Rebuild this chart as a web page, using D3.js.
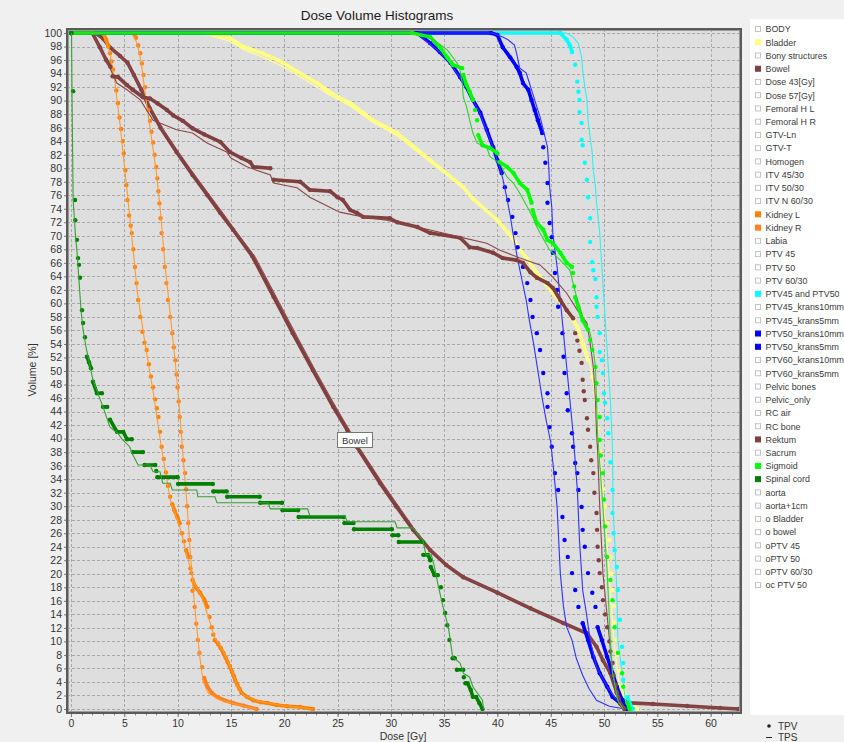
<!DOCTYPE html>
<html><head><meta charset="utf-8">
<script src="https://cdn.jsdelivr.net/npm/d3@7"></script>
<style>
html,body{margin:0;padding:0;background:#f0f0f0;}
svg{display:block;font-family:"Liberation Sans",Arial,sans-serif;}
</style></head><body>
<svg id="c" width="844" height="742"></svg>
<script>
// ---------------- DATA ----------------
const xTickValues = [0,5,10,15,20,25,30,35,40,45,50,55,60];
const yTickValues = [0,2,4,6,8,10,12,14,16,18,20,22,24,26,28,30,32,34,36,38,40,42,44,46,48,50,52,54,56,58,60,62,64,66,68,70,72,74,76,78,80,82,84,86,88,90,92,94,96,98,100];

const legendNames = ["BODY","Bladder","Bony structures","Bowel","Dose 43[Gy]","Dose 57[Gy]","Femoral H L","Femoral H R","GTV-Ln","GTV-T","Homogen","ITV 45/30","ITV 50/30","ITV N 60/30","Kidney L","Kidney R","Labia","PTV 45","PTV 50","PTV 60/30","PTV45 and PTV50","PTV45_krans10mm","PTV45_krans5mm","PTV50_krans10mm","PTV50_krans5mm","PTV60_krans10mm","PTV60_krans5mm","Pelvic bones","Pelvic_only","RC air","RC bone","Rektum","Sacrum","Sigmoid","Spinal cord","aorta","aorta+1cm","o Bladder","o bowel","oPTV 45","oPTV 50","oPTV 60/30","oc PTV 50"];

// dose [Gy], volume [%]
const bladderTPV = [[0,100],[12.5,100],[13.7,99.6],[14.9,99.3],[16.1,98.0],[18.0,97.0],[19.9,95.6],[21.2,94.3],[23.1,92.6],[24.3,91.2],[26.2,89.6],[27.4,88.2],[28.3,87.1],[30.6,85.2],[33.7,81.2],[36.8,77.2],[37.7,75.5],[40.0,72.3],[41.5,69.6],[42.1,67.9],[42.8,66.6],[43.7,64.5],[45.2,61.5],[46.5,59.0],[47.5,56.5],[48.0,54.1],[48.5,51.6],[48.9,49.1],[49.2,46.7],[49.3,44.0],[49.4,41.5],[49.6,38.0],[49.8,35.0],[49.9,32.5],[50.1,30.0],[50.3,27.5],[50.5,25.0],[50.6,22.5],[50.7,20.0],[50.8,17.6],[50.9,15.2],[51.0,12.8],[51.2,10.3],[51.3,8.0],[51.5,5.7],[51.7,3.5],[52.0,2.0],[52.3,1.0],[52.8,0.3],[53.1,0]];
const bladderTPS = [[0,100],[12.5,100],[13.5,99.4],[14.9,98.8],[16.1,97.6],[18.0,96.4],[19.9,95.0],[21.2,93.8],[23.1,92.0],[24.3,90.8],[26.2,89.2],[28.3,86.8],[30.6,84.8],[33.7,80.9],[36.8,77.0],[40.0,72.2],[42.1,67.9],[43.7,64.6],[45.2,61.7],[46.5,59.2],[47.5,56.8],[48.2,54.0],[48.7,51.0],[49.1,47.0],[49.4,42.0],[49.7,36.0],[50.0,30.0],[50.4,22.0],[50.7,15.0],[51.0,9.0],[51.4,4.0],[51.9,1.0],[52.5,0]];

const bowelTPV = [[0,100],[2.3,100],[3.0,99.2],[3.7,97.8],[4.6,96.6],[5.3,95.6],[5.9,93.8],[6.6,91.6],[7.4,88.8],[8.4,86.0],[9.9,82.4],[11.4,79.0],[12.8,76.0],[14.0,73.4],[15.2,70.9],[17.0,67.0],[19.0,61.0],[20.8,55.6],[22.7,50.1],[24.6,44.7],[25.9,41.3],[26.8,38.8],[29.0,33.4],[30.5,30.0],[32.1,26.5],[33.7,23.5],[35.2,21.3],[36.8,19.5],[40.0,17.2],[43.1,14.9],[46.2,12.7],[48.4,11.2],[49.3,9.2],[49.9,7.2],[50.6,5.3],[51.2,2.4],[51.8,1.3],[52.4,0.9],[54.6,0.74],[57.8,0.44],[60.9,0.15],[62.6,0]];
const bowelTPS = [[0,100],[2.2,100],[3.0,99.0],[3.8,97.6],[4.8,96.3],[5.5,95.0],[6.1,93.2],[6.8,91.2],[7.6,88.6],[8.6,85.8],[10.1,82.3],[11.6,79.0],[13.0,76.0],[14.3,73.2],[15.5,70.6],[17.3,66.8],[19.3,60.8],[21.1,55.4],[23.0,49.8],[24.9,44.5],[26.2,41.0],[27.1,38.5],[29.3,33.2],[30.8,29.8],[32.3,26.4],[33.9,23.4],[35.4,21.2],[37.0,19.4],[40.2,17.1],[43.3,14.8],[46.3,12.6],[48.3,11.3],[49.2,9.5],[49.9,7.4],[50.6,5.4],[51.2,2.6],[51.8,1.3],[52.5,0.8],[55.0,0.6],[58.0,0.4],[61.0,0.15],[62.5,0]];

const kidneyLTPV = [[0,100],[3.0,100],[3.3,99.0],[3.5,98.0],[3.66,97.0],[3.8,95.8],[3.95,94.6],[4.1,93.5],[4.25,91.5],[4.4,89.6],[4.55,87.5],[4.7,85.8],[4.85,84.0],[4.95,82.2],[5.1,79.7],[5.2,77.5],[5.3,75.3],[5.45,73.0],[5.6,71.5],[5.7,70.4],[5.85,68.0],[6.0,65.4],[6.15,63.0],[6.3,60.5],[6.5,58.0],[6.7,55.8],[6.9,54.2],[7.1,53.1],[7.3,51.0],[7.5,49.2],[7.7,47.6],[7.9,45.8],[8.05,44.5],[8.2,43.2],[8.35,41.0],[8.5,38.8],[8.7,37.0],[8.9,35.0],[9.1,33.0],[9.3,31.4],[9.5,30.3],[9.7,29.4],[10.0,28.3],[10.2,27.5],[10.4,26.0],[10.6,24.8],[10.8,23.5],[11.0,22.5],[11.2,20.8],[11.4,19.1],[11.7,18.0],[12.1,17.2],[12.5,16.2],[12.8,15.1],[13.0,13.6],[13.2,12.1],[13.35,11.0],[13.5,10.2],[13.8,9.6],[14.05,9.0],[14.3,8.3],[14.5,7.6],[14.7,6.9],[14.9,6.2],[15.1,5.5],[15.3,4.8],[15.4,4.3],[15.6,3.6],[15.8,3.0],[16.0,2.4],[16.5,1.8],[17.1,1.3],[17.8,1.0],[18.4,0.9],[19.3,0.6],[20.3,0.4],[21.5,0.3],[22.7,0]];
const kidneyLTPS = [[0,100],[3.0,100],[3.6,97.5],[4.1,93.0],[4.6,86.5],[5.1,79.0],[5.6,71.5],[6.2,62.0],[6.9,54.5],[7.7,47.0],[8.5,38.5],[9.3,31.0],[10.2,27.0],[11.0,22.0],[11.6,18.5],[12.3,16.5],[13.0,13.0],[13.5,10.5],[14.3,8.5],[15.0,6.0],[15.6,3.5],[16.2,2.0],[17.5,1.2],[19.5,0.6],[22.7,0]];

const kidneyRTPV = [[0,100],[5.8,100],[6.1,99.3],[6.3,98.2],[6.5,97.0],[6.65,95.5],[6.8,93.8],[6.95,92.0],[7.1,90.3],[7.25,88.6],[7.4,87.0],[7.55,85.4],[7.7,83.8],[7.85,82.0],[8.0,80.2],[8.1,78.5],[8.2,76.6],[8.3,74.8],[8.4,72.6],[8.5,70.4],[8.65,68.0],[8.8,65.4],[8.95,63.0],[9.1,60.5],[9.3,58.0],[9.5,55.6],[9.65,53.5],[9.8,51.6],[9.9,49.5],[10.0,47.6],[10.1,45.5],[10.2,43.2],[10.3,41.0],[10.4,38.8],[10.55,36.8],[10.7,34.9],[10.8,32.5],[10.9,30.0],[11.0,27.5],[11.1,25.0],[11.2,22.5],[11.3,20.1],[11.4,17.5],[11.6,15.1],[11.75,12.6],[11.9,10.2],[12.05,8.3],[12.3,6.2],[12.5,4.6],[12.8,3.3],[13.2,2.4],[13.7,1.8],[14.4,1.3],[15.2,0.9],[16.2,0.5],[17.4,0]];
const kidneyRTPS = [[0,100],[5.7,100],[6.2,98.5],[6.6,95.5],[7.0,90.5],[7.5,85.0],[8.0,79.5],[8.4,73.5],[8.8,66.0],[9.3,58.5],[9.8,51.0],[10.2,44.0],[10.5,37.5],[10.9,30.0],[11.2,23.0],[11.5,17.0],[11.8,12.0],[12.1,7.5],[12.4,4.0],[12.9,2.3],[14.0,1.3],[15.5,0.7],[17.4,0]];

const ptv4550TPV = [[0,100],[45.9,100],[46.5,99.0],[46.8,98.2],[47.0,97.2],[47.3,95.3],[47.5,92.8],[47.6,91.3],[47.7,90.1],[47.7,88.3],[47.9,86.7],[47.9,84.2],[48.0,83.4],[48.2,80.8],[48.4,78.3],[48.5,75.7],[48.7,72.6],[48.7,69.1],[48.9,66.1],[49.0,64.9],[49.2,63.6],[49.3,60.9],[49.3,59.5],[49.4,58.0],[49.6,55.6],[49.6,52.8],[49.8,51.6],[49.9,49.7],[50.0,46.7],[50.1,45.3],[50.3,43.0],[50.4,40.8],[50.6,36.5],[50.8,32.4],[50.8,29.0],[50.9,26.0],[51.0,23.5],[51.2,21.0],[51.3,17.6],[51.5,13.2],[51.7,9.2],[51.8,6.8],[51.8,4.3],[52.2,1.8],[52.4,0.9],[52.7,0]];
const ptv4550TPS = [[0,100],[46.5,100],[47.1,99.4],[47.6,98.5],[47.9,96.4],[48.0,94.5],[48.2,92.0],[48.4,90.1],[48.5,87.1],[48.7,84.6],[48.9,82.2],[49.0,79.7],[49.2,77.2],[49.3,74.9],[49.6,70.4],[49.9,63.0],[50.1,58.0],[50.4,50.6],[50.6,45.7],[50.8,38.3],[50.85,29.9],[51.0,25.0],[51.2,17.6],[51.3,10.2],[51.7,5.3],[52.0,1.3],[52.3,0]];

const krans10TPV = [[0,100],[32.5,100],[33.7,98.5],[34.6,97.2],[35.6,95.6],[36.5,93.5],[37.1,92.0],[37.7,90.1],[38.4,88.2],[39.0,85.7],[39.6,83.1],[40.0,81.2],[40.4,79.3],[40.7,77.2],[41.0,75.3],[41.4,72.8],[41.7,70.4],[41.9,68.3],[42.4,65.4],[42.8,63.0],[43.1,60.5],[43.3,58.0],[43.7,55.6],[44.0,53.1],[44.3,49.7],[44.7,46.7],[44.7,44.7],[44.9,41.7],[45.1,38.8],[45.4,34.9],[45.7,32.4],[46.1,28.4],[46.3,25.0],[46.6,22.5],[47.0,20.1],[47.3,17.6],[47.6,15.1],[48.0,12.7],[48.5,10.2],[49.0,7.7],[49.6,5.3],[50.3,3.3],[50.8,1.8],[51.5,0.9],[52.0,0]];
const krans10TPS = [[0,100],[32.3,100],[33.5,98.6],[34.5,97.3],[35.5,95.6],[36.5,93.4],[37.2,91.8],[37.8,89.8],[38.4,88.0],[39.0,85.5],[39.6,83.0],[40.1,80.7],[40.5,78.5],[40.9,75.5],[41.2,73.0],[41.5,70.0],[41.9,66.5],[42.3,63.5],[42.7,60.5],[43.0,57.5],[43.4,54.0],[43.8,50.0],[44.2,46.0],[44.6,42.5],[45.0,39.5],[45.3,35.0],[45.6,29.9],[45.9,20.1],[46.2,15.1],[46.5,12.1],[47.0,10.2],[47.4,7.5],[48.0,5.0],[48.6,3.0],[49.3,1.3],[50.5,0.4],[52.0,0]];

const krans5TPV = [[0,100],[39.4,100],[40.0,99.7],[40.5,97.9],[41.2,96.4],[41.8,95.0],[42.1,94.1],[42.4,92.6],[42.9,91.6],[43.2,90.1],[43.5,88.6],[43.8,87.1],[44.2,85.2],[44.3,83.1],[44.5,80.8],[44.7,77.8],[44.7,74.9],[44.9,71.9],[45.1,69.8],[45.2,67.5],[45.4,64.5],[45.6,62.0],[45.7,59.5],[46.1,55.6],[46.2,52.1],[46.3,49.7],[46.5,46.7],[46.6,44.2],[47.0,40.8],[47.1,38.8],[47.3,36.4],[47.5,34.9],[47.6,32.4],[47.9,29.9],[48.0,26.5],[48.2,24.0],[48.5,20.1],[48.9,17.2],[49.2,15.1],[49.4,12.1],[49.8,10.2],[50.3,7.7],[50.8,5.3],[51.2,3.3],[51.7,1.3],[52.2,0]];
const krans5TPS = [[0,100],[39.5,100],[40.5,99.4],[41.0,99.0],[41.6,98.2],[41.8,97.0],[42.1,94.8],[42.7,94.1],[43.0,92.6],[43.3,91.1],[43.6,89.6],[44.0,87.6],[44.3,85.7],[44.7,83.1],[44.8,80.8],[44.9,77.2],[45.1,74.3],[45.2,70.4],[45.6,65.4],[45.9,60.5],[46.2,55.6],[46.5,50.6],[46.8,45.7],[47.1,40.8],[47.5,32.4],[47.7,25.0],[48.0,17.6],[48.4,13.6],[48.7,10.2],[49.3,6.2],[50.3,3.3],[51.2,1.3],[52.2,0]];

const rektumTPV = [[0,100],[2.0,100],[2.7,97.9],[3.3,96.0],[3.7,95.0],[3.9,93.6],[4.4,93.5],[5.25,92.3],[5.8,91.6],[6.75,90.5],[7.4,90.3],[8.1,89.6],[9.0,88.6],[9.6,87.8],[10.5,87.0],[11.4,85.9],[12.5,85.0],[14.0,83.9],[14.9,82.4],[16.0,81.5],[16.8,80.9],[17.1,80.2],[18.7,80.0],[19.0,78.3],[21.5,78.0],[22.4,76.8],[24.3,76.6],[25.0,75.7],[25.5,75.3],[26.2,73.8],[26.8,73.4],[27.4,72.8],[29.9,72.6],[30.6,72.0],[32.5,71.3],[33.7,70.4],[36.5,69.7],[37.4,68.3],[38.1,68.2],[39.6,67.5],[40.5,66.7],[41.8,66.4],[42.4,66.0],[43.1,64.6],[43.7,63.8],[44.7,63.0],[45.2,62.3],[45.9,60.5],[46.5,59.0],[47.1,57.8],[47.3,55.6],[47.5,54.5],[47.7,53.0],[47.9,51.2],[48.0,48.7],[48.1,47.0],[48.2,45.7],[48.4,43.0],[48.5,41.3],[48.7,38.8],[48.8,36.8],[49.0,34.9],[49.1,32.0],[49.3,29.0],[49.35,26.5],[49.4,24.0],[49.5,22.0],[49.6,20.1],[49.8,18.0],[49.9,16.1],[50.1,14.0],[50.3,12.1],[50.5,10.0],[50.6,8.5],[50.8,6.8],[50.9,5.0],[51.1,3.6],[51.2,2.5],[51.4,1.5],[51.5,0.8],[51.9,0]];
const rektumTPS = [[0,100],[2.0,100],[2.8,97.5],[3.5,95.3],[4.3,92.6],[5.25,91.6],[6.5,90.1],[7.7,87.1],[9.9,85.7],[11.4,85.2],[12.8,83.7],[14.6,82.4],[15.0,81.5],[16.5,80.2],[18.7,79.0],[19.0,77.8],[21.2,77.1],[22.4,75.7],[25.2,73.5],[27.4,72.8],[29.6,72.3],[32.5,71.3],[36.5,69.8],[39.0,68.9],[40.2,67.9],[42.1,66.7],[44.0,65.7],[45.2,63.9],[46.5,61.5],[47.5,59.0],[48.4,57.1],[48.7,54.1],[49.0,50.6],[49.2,45.7],[49.3,40.8],[49.4,38.3],[49.6,29.9],[49.9,20.1],[50.4,12.1],[50.8,5.3],[51.5,1.3],[52.0,0]];

const sigmoidTPV = [[0,100],[32.0,100],[33.7,99.4],[34.6,97.9],[35.3,96.4],[35.8,95.3],[36.7,94.8],[36.8,93.8],[37.1,92.3],[37.4,91.3],[37.7,90.1],[37.9,88.6],[38.1,87.1],[38.2,84.9],[38.6,83.4],[39.3,83.0],[40.0,82.2],[40.2,80.9],[40.9,80.2],[41.5,79.3],[42.1,77.8],[42.8,76.8],[43.2,74.9],[43.3,73.8],[43.7,71.9],[44.3,70.9],[44.7,69.4],[45.2,68.9],[45.9,67.5],[46.5,66.0],[47.0,65.4],[47.1,64.5],[47.2,62.5],[47.3,60.9],[47.6,59.5],[48.0,57.5],[48.5,56.1],[48.7,54.6],[48.9,53.1],[49.2,50.6],[49.3,48.2],[49.4,45.7],[49.6,43.2],[49.6,39.8],[49.7,37.5],[49.9,34.9],[50.0,31.0],[50.1,27.0],[50.3,22.5],[50.6,19.1],[50.8,16.1],[51.0,12.1],[51.3,8.3],[51.7,5.3],[51.8,3.3],[52.2,0.9],[52.4,0]];
const sigmoidTPS = [[0,100],[32.5,100],[34.0,99.0],[35.3,97.5],[36.2,95.6],[36.5,94.5],[36.7,92.6],[36.8,90.5],[37.1,89.1],[37.4,87.1],[37.7,85.2],[38.1,83.7],[39.0,83.1],[39.3,81.7],[40.2,80.8],[40.9,78.7],[41.5,77.8],[42.1,76.3],[42.8,74.3],[43.3,72.8],[43.7,71.3],[44.0,70.4],[44.9,67.9],[45.9,66.4],[46.8,64.9],[47.1,63.0],[47.5,60.5],[48.0,58.0],[48.4,56.5],[48.7,55.6],[49.0,53.1],[49.2,50.6],[49.3,45.7],[49.4,40.8],[49.9,29.9],[50.3,20.1],[50.6,10.2],[50.8,5.3],[51.3,1.3],[51.8,0]];

const spinalTPV = [[0,100],[0.05,100],[0.2,91.4],[0.38,75.3],[0.4,72.3],[0.56,69.4],[0.66,66.7],[0.75,65.7],[0.84,63.8],[1.03,59.0],[1.13,57.1],[1.31,55.0],[1.5,52.1],[1.69,51.3],[1.88,50.4],[2.06,48.4],[2.44,46.7],[2.9,46.7],[3.0,44.7],[3.4,44.7],[3.66,42.8],[4.32,41.0],[4.9,41.0],[5.25,39.9],[5.7,39.9],[5.8,38.0],[6.75,38.0],[6.9,36.1],[7.9,36.1],[8.0,35.2],[8.1,34.3],[10.0,34.3],[10.05,33.3],[13.3,33.3],[13.35,32.2],[14.6,32.2],[14.65,31.4],[17.7,31.4],[17.75,30.5],[19.8,30.5],[19.85,29.4],[21.3,29.4],[21.35,28.4],[25.6,28.4],[25.65,27.5],[26.5,27.5],[26.55,26.6],[30.1,26.6],[30.15,25.7],[30.7,25.7],[30.75,24.7],[33.0,24.7],[33.05,22.8],[33.5,22.8],[33.7,22.0],[33.75,21.0],[34.1,19.8],[34.4,19.8],[34.7,18.0],[34.9,16.1],[35.1,14.2],[35.3,12.4],[35.5,10.2],[35.8,7.5],[36.0,7.5],[36.2,5.8],[36.8,5.8],[36.85,4.7],[37.0,3.8],[37.2,3.8],[37.5,2.8],[37.7,1.8],[38.0,1.8],[38.3,0.9],[38.6,0]];
const spinalTPS = [[0,100],[0.05,100],[0.1,90.0],[0.2,75.3],[0.45,69.4],[0.55,67.9],[0.66,65.4],[0.94,59.0],[1.13,56.1],[1.4,53.6],[1.8,50.6],[2.06,48.7],[2.4,47.2],[3.0,44.7],[3.66,41.7],[4.4,40.8],[4.8,39.9],[5.5,38.8],[5.7,37.9],[6.3,36.1],[7.4,36.1],[7.7,35.1],[8.35,35.1],[8.6,33.4],[9.3,33.4],[9.5,32.4],[11.8,32.4],[11.9,31.4],[13.5,31.4],[13.7,30.5],[18.5,30.5],[18.7,29.6],[22.2,29.6],[22.4,28.6],[25.7,28.6],[25.9,27.7],[30.4,27.7],[30.6,26.8],[32.1,26.8],[32.6,25.7],[33.0,25.0],[33.3,22.8],[33.8,22.8],[34.1,21.0],[34.4,18.6],[34.9,15.1],[35.4,12.1],[35.8,7.7],[36.5,6.8],[36.8,5.3],[37.4,4.7],[37.7,3.3],[38.1,2.4],[38.6,1.3],[38.7,0]];

// ---------------- STYLES ----------------
const boxColors = {"Bladder":"#ffff80","Bowel":"#804040","Kidney L":"#ff8000","Kidney R":"#ff8020","PTV45 and PTV50":"#00ffff","PTV50_krans10mm":"#0000ff","PTV50_krans5mm":"#0000ff","Rektum":"#804040","Sigmoid":"#00ff00","Spinal cord":"#008000"};
const lineColors = {"Bladder":"#ffff90","Bowel":"#8a4848","Kidney L":"#ff9a30","Kidney R":"#ff9a30","PTV45 and PTV50":"#30f0f0","PTV50_krans10mm":"#3030ff","PTV50_krans5mm":"#3030ff","Rektum":"#8a4848","Sigmoid":"#30d030","Spinal cord":"#35a035"};

const series = [
  {name:"Bladder", tpv:bladderTPV, tps:bladderTPS},
  {name:"Bowel", tpv:bowelTPV, tps:bowelTPS},
  {name:"Kidney L", tpv:kidneyLTPV, tps:kidneyLTPS},
  {name:"Kidney R", tpv:kidneyRTPV, tps:kidneyRTPS},
  {name:"PTV45 and PTV50", tpv:ptv4550TPV, tps:ptv4550TPS},
  {name:"PTV50_krans10mm", tpv:krans10TPV, tps:krans10TPS},
  {name:"PTV50_krans5mm", tpv:krans5TPV, tps:krans5TPS},
  {name:"Rektum", tpv:rektumTPV, tps:rektumTPS},
  {name:"Sigmoid", tpv:sigmoidTPV, tps:sigmoidTPS},
  {name:"Spinal cord", tpv:spinalTPV, tps:spinalTPS}
];

// ---------------- LAYOUT ----------------
const svg = d3.select("#c");
const frame = {x0:67, y0:29, x1:741, y1:713};
const x = d3.scaleLinear().domain([0,60]).range([71,710.6]);
const y = d3.scaleLinear().domain([0,100]).range([709,33]);

svg.append("rect").attr("width",844).attr("height",742).attr("fill","#f0f0f0");

// title
svg.append("text").attr("x",377).attr("y",20).attr("text-anchor","middle")
  .attr("font-size",13.5).attr("fill","#1a1a1a").text("Dose Volume Histograms");

// plot background
svg.append("rect").attr("x",frame.x0).attr("y",frame.y0)
  .attr("width",frame.x1-frame.x0).attr("height",frame.y1-frame.y0).attr("fill","#dedede");

svg.append("defs").append("clipPath").attr("id","clip").append("rect")
  .attr("x",frame.x0+1).attr("y",frame.y0+1).attr("width",frame.x1-frame.x0-2).attr("height",frame.y1-frame.y0-2);

// grid
const grid = svg.append("g").attr("stroke","#a9a9a9").attr("stroke-width",1).attr("stroke-dasharray","3,2");
grid.selectAll("line.h").data(yTickValues).join("line").attr("class","h")
  .attr("x1",frame.x0).attr("x2",frame.x1).attr("y1",d=>Math.round(y(d))+0.5).attr("y2",d=>Math.round(y(d))+0.5);
grid.selectAll("line.v").data(xTickValues).join("line").attr("class","v")
  .attr("y1",frame.y0).attr("y2",frame.y1).attr("x1",d=>Math.round(x(d))+0.5).attr("x2",d=>Math.round(x(d))+0.5);

// axes
const xAxis = d3.axisBottom(x).tickValues(xTickValues).tickSize(4).tickPadding(3).tickFormat(d3.format("d"));
const gx = svg.append("g").attr("transform",`translate(0,${frame.y1})`).call(xAxis);
gx.select(".domain").remove();
gx.selectAll(".tick line").attr("stroke","#777");
gx.selectAll("text").attr("font-size",10.5).attr("fill","#333").attr("font-family","Liberation Sans, Arial, sans-serif");
// minor x ticks
svg.append("g").selectAll("line").data(d3.range(0,63,1)).join("line")
  .attr("x1",d=>Math.round(x(d))+0.5).attr("x2",d=>Math.round(x(d))+0.5)
  .attr("y1",frame.y1).attr("y2",frame.y1+2.5).attr("stroke","#888");

const yAxis = d3.axisLeft(y).tickValues(yTickValues).tickSize(3).tickPadding(2).tickFormat(d3.format("d"));
const gy = svg.append("g").attr("transform",`translate(${frame.x0},0)`).call(yAxis);
gy.select(".domain").remove();
gy.selectAll(".tick line").attr("stroke","#777");
gy.selectAll("text").attr("font-size",10.5).attr("fill","#333").attr("font-family","Liberation Sans, Arial, sans-serif");

// axis titles
svg.append("text").attr("x",403).attr("y",740).attr("text-anchor","middle")
  .attr("font-size",10.5).attr("fill","#333").text("Dose [Gy]");
svg.append("text").attr("transform","translate(36,370) rotate(-90)").attr("text-anchor","middle")
  .attr("font-size",10.5).attr("fill","#333").text("Volume [%]");

// curves
const plot = svg.append("g").attr("clip-path","url(#clip)");
const line = d3.line();
function tpvParts(data){
  const pts = data.map(d=>[x(d[0]), y(d[1])]);
  const runs=[]; let cur=[pts[0]];
  for(let i=1;i<pts.length;i++){
    const dx = pts[i][0]-pts[i-1][0], dy = Math.abs(pts[i][1]-pts[i-1][1]);
    const solid = dy <= 3.3*Math.abs(dx) || Math.hypot(dx,dy) < 4;
    if(solid) cur.push(pts[i]); else { if(cur.length>1) runs.push(cur); cur=[pts[i]]; }
  }
  if(cur.length>1) runs.push(cur);
  return {pts, runs};
}
series.forEach(s=>{
  const g = plot.append("g");
  const c = boxColors[s.name];
  const p = tpvParts(s.tpv);
  g.selectAll("path.run").data(p.runs).join("path").attr("class","run")
    .attr("d",line).attr("fill","none").attr("stroke",c).attr("stroke-width",3.6)
    .attr("stroke-linejoin","round").attr("stroke-linecap","round");
  g.selectAll("circle").data(p.pts).join("circle")
    .attr("cx",d=>d[0]).attr("cy",d=>d[1]).attr("r",2.2).attr("fill",c);
  g.append("path").datum(s.tps.map(d=>[x(d[0]),y(d[1])])).attr("d",line)
    .attr("fill","none").attr("stroke",lineColors[s.name]).attr("stroke-width",1.1);
});

// frame
svg.append("rect").attr("x",frame.x0).attr("y",frame.y0)
  .attr("width",frame.x1-frame.x0).attr("height",frame.y1-frame.y0)
  .attr("fill","none").attr("stroke","#5a5a5a").attr("stroke-width",2);
svg.append("rect").attr("x",frame.x0+1.5).attr("y",frame.y0+1.5)
  .attr("width",frame.x1-frame.x0-3).attr("height",frame.y1-frame.y0-3)
  .attr("fill","none").attr("stroke","#9a9a9a").attr("stroke-width",1);

// tooltip
const tip = svg.append("g").attr("transform","translate(337,432)");
tip.append("rect").attr("x",0.5).attr("y",0.5).attr("width",35).attr("height",15)
  .attr("fill","#ffffff").attr("stroke","#767676");
tip.append("text").attr("x",5).attr("y",11.5).attr("font-size",9.5).attr("fill","#333").text("Bowel");

// legend panel
svg.append("rect").attr("x",750).attr("y",19).attr("width",94).attr("height",696).attr("fill","#ffffff");
const lg = svg.append("g");
const items = lg.selectAll("g").data(legendNames).join("g")
  .attr("transform",(d,i)=>`translate(755,${29+i*13.24})`);
items.append("rect").attr("x",0.5).attr("y",-2.5).attr("width",5).attr("height",5)
  .attr("fill",d=>boxColors[d]||"#ffffff").attr("stroke",d=>boxColors[d]?boxColors[d]:"#c4c4c4").attr("stroke-width",1);
items.append("text").attr("x",10.5).attr("y",3.3).attr("font-size",8.9).attr("fill","#3a3a3a").text(d=>d);

// TPV / TPS key
svg.append("circle").attr("cx",769).attr("cy",726).attr("r",1.8).attr("fill","#222");
svg.append("text").attr("x",778).attr("y",729.5).attr("font-size",10).attr("fill","#333").text("TPV");
svg.append("line").attr("x1",766).attr("x2",772).attr("y1",737.5).attr("y2",737.5).attr("stroke","#222");
svg.append("text").attr("x",778).attr("y",741).attr("font-size",10).attr("fill","#333").text("TPS");
</script>
</body></html>
